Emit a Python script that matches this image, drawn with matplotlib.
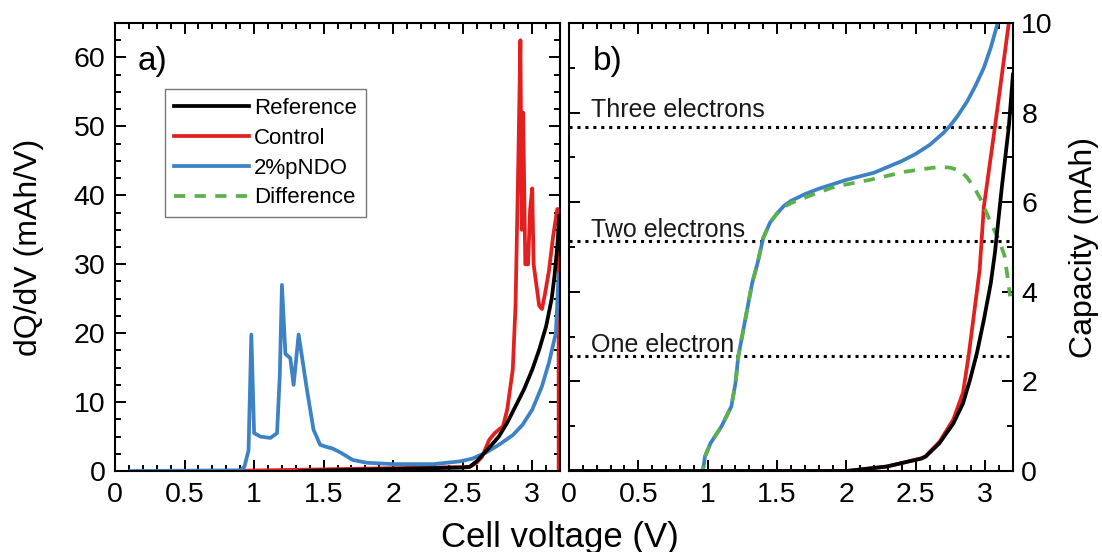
import matplotlib
matplotlib.use("Agg")
import matplotlib.pyplot as plt
import numpy as np
from matplotlib.ticker import MultipleLocator

plt.rcParams['font.family'] = ['Liberation Sans', 'DejaVu Sans']

# ---- panel a) dQ/dV ----
a_ref_v = [1.33, 2.0, 2.5, 2.55, 2.6, 2.65, 2.7, 2.76, 2.82, 2.88, 2.94, 3.0, 3.05, 3.1, 3.14, 3.16, 3.18, 3.195]
a_ref_q = [0, 0.3, 0.5, 0.6, 1.4, 2.5, 3.6, 5.0, 7.0, 9.4, 11.8, 14.7, 17.6, 21.0, 25.0, 28.3, 32.5, 37.0]

a_ctl_v = [0.78, 2.55, 2.6, 2.64, 2.69, 2.73, 2.79, 2.82, 2.86, 2.88, 2.9, 2.915, 2.925, 2.935,
           2.95, 2.97, 2.985, 3.0, 3.01, 3.03, 3.05, 3.07, 3.09, 3.12, 3.15, 3.18, 3.19, 3.19, 3.2]
a_ctl_q = [0, 0.6, 1.2, 2.1, 4.5, 5.5, 6.5, 8.9, 14.7, 24.0, 45.0, 62.5, 35.0, 52.0,
           30.0, 30.0, 38.0, 41.0, 30.0, 27.0, 24.0, 23.5, 25.5, 29.0, 34.0, 38.0, 38.0, 0, 0]

a_pndo_v = [0.11, 0.9, 0.93, 0.96, 0.98, 1.0, 1.045, 1.117, 1.165, 1.185, 1.2, 1.225, 1.26, 1.284,
            1.32, 1.344, 1.38, 1.427, 1.475, 1.52, 1.56, 1.62, 1.71, 1.81, 2.0, 2.29, 2.48, 2.57,
            2.67, 2.76, 2.86, 2.93, 3.0, 3.07, 3.12, 3.17, 3.19]
a_pndo_q = [0, 0.1, 0.6, 3.0, 19.8, 5.5, 5.0, 4.8, 5.5, 14.0, 27.0, 17.0, 16.4, 12.5,
            19.8, 16.6, 11.8, 6.0, 3.8, 3.5, 3.3, 2.7, 1.6, 1.2, 1.0, 1.0, 1.4, 1.8,
            2.7, 3.8, 5.2, 6.7, 8.9, 12.3, 15.7, 20.0, 28.5]

# ---- panel b) capacity ----
b_ref_v = [0.0, 2.0, 2.29, 2.54, 2.57, 2.67, 2.77, 2.84, 2.89, 2.94, 2.99, 3.04, 3.07, 3.12, 3.17, 3.2]
b_ref_c = [0, 0, 0.1, 0.28, 0.32, 0.62, 1.06, 1.51, 2.03, 2.63, 3.37, 4.19, 4.87, 6.34, 7.68, 8.85]

b_ctl_v = [0.0, 2.0, 2.29, 2.54, 2.57, 2.67, 2.77, 2.84, 2.88, 2.96, 2.99, 3.07, 3.17]
b_ctl_c = [0, 0, 0.1, 0.28, 0.33, 0.65, 1.15, 1.75, 2.56, 4.49, 5.89, 7.68, 10.0]

b_pndo_v = [0.0, 0.96, 0.97, 0.98, 1.02, 1.1, 1.17, 1.2, 1.22, 1.27, 1.32, 1.36, 1.4, 1.45,
            1.5, 1.55, 1.6, 1.7, 1.8, 1.9, 2.0, 2.2, 2.4, 2.5, 2.6, 2.7, 2.75, 2.8, 2.87,
            2.93, 2.99, 3.04, 3.09]
b_pndo_c = [0, 0, 0.1, 0.32, 0.62, 1.0, 1.44, 1.96, 2.55, 3.37, 4.19, 4.65, 5.2, 5.55,
            5.75, 5.92, 6.03, 6.18, 6.3, 6.4, 6.5, 6.66, 6.92, 7.08, 7.28, 7.55, 7.72, 7.92, 8.25,
            8.6, 9.0, 9.45, 10.0]

b_diff_v = [0.62, 0.96, 0.97, 0.98, 1.02, 1.1, 1.17, 1.2, 1.22, 1.27, 1.32, 1.36, 1.4, 1.45,
            1.5, 1.55, 1.6, 1.7, 1.8, 1.92, 2.17, 2.42, 2.6, 2.68, 2.75, 2.82, 2.87, 2.92,
            2.97, 3.04, 3.1, 3.14, 3.18]
b_diff_c = [0, 0, 0.1, 0.32, 0.62, 1.0, 1.44, 1.96, 2.55, 3.37, 4.19, 4.65, 5.2, 5.55,
            5.75, 5.9, 5.98, 6.1, 6.22, 6.35, 6.5, 6.68, 6.76, 6.79, 6.77, 6.7, 6.55, 6.33,
            6.05, 5.54, 5.15, 4.8, 3.9]

electron_levels = [2.56, 5.13, 7.69]
electron_labels = ["One electron", "Two electrons", "Three electrons"]
electron_text_y = [2.66, 5.22, 7.9]

RED = "#e3201f"
BLUE = "#3c82c4"
GREEN = "#5cb14a"
LW = 2.7

fig = plt.figure(figsize=(11.02, 5.52), dpi=100)
ax1 = fig.add_axes([0.1044, 0.1467, 0.4038, 0.8116])
ax2 = fig.add_axes([0.5163, 0.1467, 0.4029, 0.8116])

# panel a
ax1.plot(a_ctl_v, a_ctl_q, color=RED, lw=LW, label="Control")
ax1.plot(a_pndo_v, a_pndo_q, color=BLUE, lw=LW, label="2%pNDO")
ax1.plot([], [], color=GREEN, lw=LW, ls=(0, (3, 2.5)), label="Difference")
ax1.plot(a_ref_v, a_ref_q, color="black", lw=LW, label="Reference")
ax1.set_xlim(0, 3.2)
ax1.set_ylim(0, 65)
ax1.yaxis.set_major_locator(MultipleLocator(10))
ax1.yaxis.set_minor_locator(MultipleLocator(2.5))
ax1.text(0.05, 0.915, "a)", transform=ax1.transAxes, fontsize=24, va="center")

h, l = ax1.get_legend_handles_labels()
order = [3, 0, 1, 2]
leg = ax1.legend([h[i] for i in order], [l[i] for i in order], loc="upper left",
                 bbox_to_anchor=(0.112, 0.853), fontsize=16, frameon=True, fancybox=False,
                 handlelength=3.4, handletextpad=0.2, labelspacing=0.4, borderpad=0.4,
                 borderaxespad=0)
leg.get_frame().set_edgecolor("#555555")
leg.get_frame().set_linewidth(1.0)

# panel b
ax2.plot(b_ctl_v, b_ctl_c, color=RED, lw=LW)
ax2.plot(b_pndo_v, b_pndo_c, color=BLUE, lw=LW)
ax2.plot(b_diff_v, b_diff_c, color=GREEN, lw=LW, ls=(0, (3, 2.5)))
ax2.plot(b_ref_v, b_ref_c, color="black", lw=LW)
for lev, lab, ty in zip(electron_levels, electron_labels, electron_text_y):
    ax2.axhline(lev, color="black", lw=2.2, ls=(0, (1, 1.6)), zorder=1)
    ax2.text(0.16, ty, lab, fontsize=18, va="baseline", color="#1a1a1a")
ax2.set_xlim(0, 3.2)
ax2.set_ylim(0, 10)
ax2.yaxis.set_major_locator(MultipleLocator(2))
ax2.yaxis.set_minor_locator(MultipleLocator(1))
ax2.text(0.054, 0.915, "b)", transform=ax2.transAxes, fontsize=24, va="center")

for ax in (ax1, ax2):
    ax.xaxis.set_major_locator(MultipleLocator(0.5))
    ax.xaxis.set_minor_locator(MultipleLocator(0.1))
    ax.set_xticks([0, 0.5, 1, 1.5, 2, 2.5, 3])
    ax.set_xticklabels(["0", "0.5", "1", "1.5", "2", "2.5", "3"])
    ax.tick_params(which="both", direction="in", top=True, right=True, left=True,
                   labelsize=20.5, width=1.4)
    ax.tick_params(which="major", length=8)
    ax.tick_params(which="minor", length=4)
    ax.tick_params(axis="x", pad=8)
    ax.tick_params(axis="y", pad=7)
    for s in ax.spines.values():
        s.set_linewidth(1.5)

ax2.tick_params(axis="y", which="both", labelleft=False, labelright=True, pad=6)
ax2.set_yticks([0, 2, 4, 6, 8, 10])
ax2.set_yticklabels(["0", "2", "4", "6", "8", "10"])

fig.text(0.508, 0.027, "Cell voltage (V)", fontsize=25, ha="center", va="center")
fig.text(0.0263, 0.5525, "dQ/dV (mAh/V)", fontsize=23, rotation=90, ha="center", va="center")
fig.text(0.984, 0.5525, "Capacity (mAh)", fontsize=23, rotation=90, ha="center", va="center")

fig.savefig("out.png", dpi=100)
